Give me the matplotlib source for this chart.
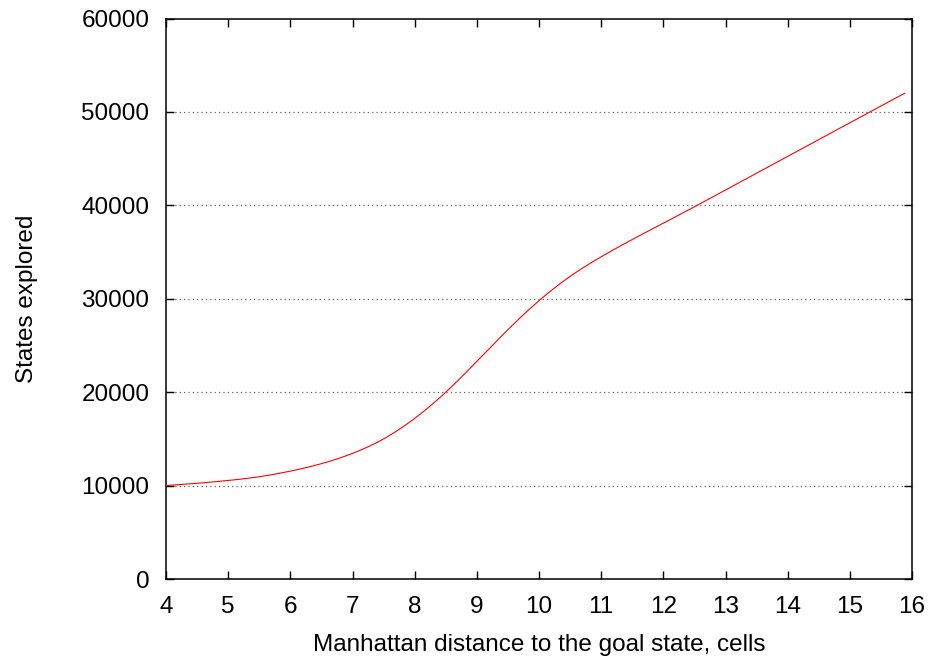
import matplotlib
matplotlib.use("Agg")
import matplotlib.pyplot as plt
import numpy as np

# values (distance in cells, states explored)
distance = [4.0, 4.5, 5.0, 5.5, 6.0, 6.5, 7.0, 7.5, 8.0, 8.5, 9.0, 9.5,
            10.0, 10.5, 11.0, 11.5, 12.0, 12.5, 13.0, 13.5, 14.0, 14.5,
            15.0, 15.5, 15.88]
states = [10000, 10250, 10550, 10950, 11550, 12350, 13450, 15000, 17200,
          20000, 23300, 26700, 29800, 32400, 34500, 36350, 38100, 39850,
          41650, 43450, 45250, 47050, 48850, 50650, 52000]

x_ticks = list(range(4, 17))
y_ticks = list(range(0, 60001, 10000))
grid_levels = [10000, 20000, 30000, 40000, 50000]


def smooth(x, y, n=400):
    # natural cubic spline through the read points, like gnuplot csplines
    x = np.asarray(x, float)
    y = np.asarray(y, float)
    h = np.diff(x)
    m = len(x)
    A = np.zeros((m, m))
    b = np.zeros(m)
    A[0, 0] = A[-1, -1] = 1
    for i in range(1, m - 1):
        A[i, i - 1] = h[i - 1]
        A[i, i] = 2 * (h[i - 1] + h[i])
        A[i, i + 1] = h[i]
        b[i] = 6 * ((y[i + 1] - y[i]) / h[i] - (y[i] - y[i - 1]) / h[i - 1])
    M = np.linalg.solve(A, b)
    xs = np.linspace(x[0], x[-1], n)
    idx = np.clip(np.searchsorted(x, xs) - 1, 0, m - 2)
    x0, x1 = x[idx], x[idx + 1]
    hh = x1 - x0
    t0, t1 = x1 - xs, xs - x0
    ys = (M[idx] * t0 ** 3 + M[idx + 1] * t1 ** 3) / (6 * hh) \
        + (y[idx] / hh - M[idx] * hh / 6) * t0 \
        + (y[idx + 1] / hh - M[idx + 1] * hh / 6) * t1
    return xs, ys


plt.rcParams["font.family"] = ["Liberation Sans", "DejaVu Sans"]

fig = plt.figure(figsize=(9.36, 6.64), dpi=100)
ax = fig.add_axes([0.1774, 0.128, 0.797, 0.844])

for level in grid_levels:
    ax.axhline(level, color="#606060", lw=0.9, ls=(0, (1, 2.5)), zorder=1)

xs, ys = smooth(distance, states)
ax.plot(xs, ys, color="#ff0000", lw=0.8, zorder=3)

ax.set_xlim(4, 16)
ax.set_ylim(0, 60000)
ax.set_xticks(x_ticks)
ax.set_yticks(y_ticks)
ax.tick_params(direction="in", length=6, width=1, labelsize=17.5, pad=12,
               top=True, right=True)
for s in ax.spines.values():
    s.set_linewidth(1.1)

ax.set_xlabel("Manhattan distance to the goal state, cells", fontsize=17.5, labelpad=12)
ax.set_ylabel("States explored", fontsize=17.5, labelpad=31)

fig.savefig("out.png", dpi=100)
